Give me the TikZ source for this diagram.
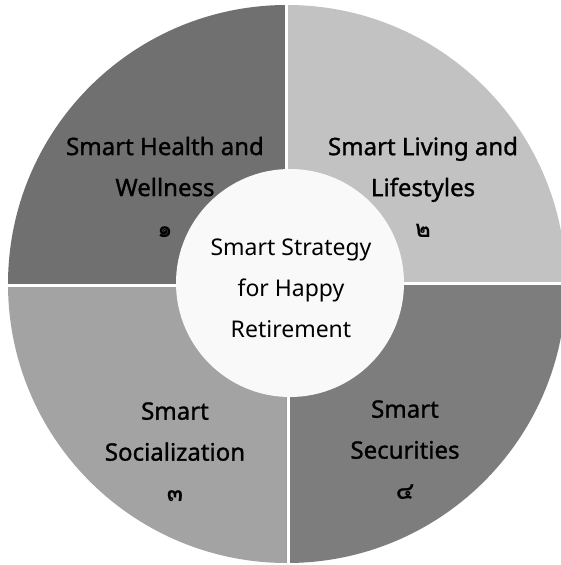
\documentclass[tikz,border=0pt]{standalone}
\usepackage{fontspec}
\setmainfont{Noto Sans}
\newfontfamily\quadfont[FakeBold=1.2]{Noto Sans}
\newfontfamily\thaifont[Script=Thai]{Loma}
\usetikzlibrary{positioning}
\definecolor{healthgray}{gray}{0.44}
\definecolor{livinggray}{gray}{0.76}
\definecolor{socialgray}{gray}{0.64}
\definecolor{securegray}{gray}{0.49}
\tikzset{
  quadlabel/.style={align=center, inner sep=0pt, text=black, font=\quadfont\fontsize{24}{41}\selectfont},
  hublabel/.style={align=center, inner sep=0pt, text=black, font=\fontsize{23}{41}\selectfont},
  gapline/.style={draw=white, line width=3pt},
}

\begin{document}
\begin{tikzpicture}[x=1pt,y=1pt]
		%%%%% START %%%%%
		\useasboundingbox[fill=white] (-287,-281) rectangle (273,284);
		
		\fill[healthgray] (0,0) -- (180:279pt) arc (180:90:279pt) -- cycle;
		\fill[livinggray] (0,0) -- (90:279pt) arc (90:0:279pt) -- cycle;
		\fill[socialgray] (0,0) -- (180:279pt) arc (180:270:279pt) -- cycle;
		\fill[securegray] (0,0) -- (270:279pt) arc (270:360:279pt) -- cycle;
		
		\coordinate (topgap) at (0,290);
		\coordinate (botgap) at (2,-290);
		\coordinate (leftgap) at (-290,-1);
		\coordinate (rightgap) at (290,1);
		\draw[gapline] (topgap) -- (0,0);
		\draw[gapline] (2,0) -- (botgap);
		\draw[gapline] (leftgap) -- (0,-1);
		\draw[gapline] (0,1) -- (rightgap);
		
		\node[circle, fill=gray!5, minimum size=228pt, inner sep=0pt] (hub) at (3,1) {};
		\node[hublabel] (hubtext) at (4,-4) {Smart Strategy\\for Happy\\Retirement};
		
		\node[quadlabel] (health) at (-122,97) {Smart Health and\\Wellness\\{\thaifont\bfseries ๑}};
		\node[quadlabel] (living) at (136,97) {Smart Living and\\Lifestyles\\{\thaifont\bfseries ๒}};
		\node[quadlabel] (social) at (-112,-168) {Smart\\Socialization\\{\thaifont\bfseries ๓}};
		\node[quadlabel] (secure) at (118,-166) {Smart\\Securities\\{\thaifont\bfseries ๔}};
		
		%%%%% END %%%%%
\end{tikzpicture}
\end{document}
